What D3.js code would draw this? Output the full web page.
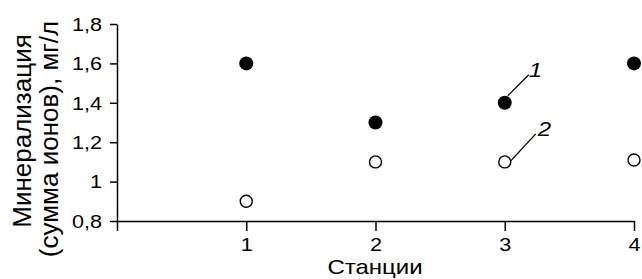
<!DOCTYPE html>
<html><head><meta charset="utf-8">
<script src="https://cdn.jsdelivr.net/npm/d3@7"></script>
<style>
body{margin:0;background:#fff;}
svg{display:block;font-family:"Liberation Sans",Arial,sans-serif;}
</style></head>
<body>
<svg id="c" width="642" height="279"></svg>
<script>
const stations = [1, 2, 3, 4];
const series1 = [1.6, 1.3, 1.4, 1.6];   // filled circles (1)
const series2 = [0.9, 1.1, 1.1, 1.11];  // open circles (2)
const yTicks = [0.8, 1.0, 1.2, 1.4, 1.6, 1.8];
const xTicks = [0, 1, 2, 3, 4];
const yTitle = ["Минерализация", "(сумма ионов), мг/л"];
const xTitle = "Станции";

const svg = d3.select("#c");
const x = d3.scaleLinear().domain([0, 4]).range([117, 634]);
const y = d3.scaleLinear().domain([0.8, 1.8]).range([221, 24]);
const fmt = v => (Math.abs(v - 1) < 1e-9 ? "1" : d3.format(".1f")(v).replace(".", ","));
const SX = 1.2;

const ya = svg.append("g").attr("transform", `translate(${x(0)},0)`)
  .call(d3.axisLeft(y).tickValues(yTicks).tickFormat(fmt).tickSize(7).tickSizeOuter(0));
const xa = svg.append("g").attr("transform", `translate(0,${y(0.8)})`)
  .call(d3.axisBottom(x).tickValues(xTicks).tickFormat(d => d === 0 ? "" : d).tickSize(10).tickSizeOuter(0));
[ya, xa].forEach(g => {
  g.selectAll("path, line").attr("stroke", "#000").attr("stroke-width", 1.5);
  g.selectAll("text").attr("fill", "#000").style("font-size", "18px")
    .style("font-family", "Liberation Sans, Arial, sans-serif");
});
ya.selectAll("text").attr("x", null).attr("dy", "0.35em")
  .attr("transform", `translate(-15,0) scale(${SX},1)`);
xa.selectAll("text").attr("y", null).attr("dy", null)
  .attr("transform", `translate(0,30) scale(${SX},1)`);

svg.append("g").selectAll("circle").data(stations).join("circle")
  .attr("cx", d => x(d)).attr("cy", (d, i) => y(series2[i])).attr("r", 6)
  .attr("fill", "#fff").attr("stroke", "#000").attr("stroke-width", 1.4);
svg.append("g").selectAll("circle").data(stations).join("circle")
  .attr("cx", d => x(d)).attr("cy", (d, i) => y(series1[i])).attr("r", 7)
  .attr("fill", "#000");

// annotations at station 3
const ax = x(3);
const a1 = y(series1[2]), a2 = y(series2[2]);
svg.append("line").attr("x1", ax + 3).attr("y1", a1 - 7).attr("x2", ax + 24).attr("y2", a1 - 28)
  .attr("stroke", "#000").attr("stroke-width", 1.3);
svg.append("line").attr("x1", ax + 6).attr("y1", a2 - 1).attr("x2", ax + 31).attr("y2", a2 - 28)
  .attr("stroke", "#000").attr("stroke-width", 1.3);
svg.append("text").attr("transform", `translate(${ax + 24},${a1 - 26}) scale(${SX},1)`).text("1")
  .style("font-size", "20px").style("font-style", "italic");
svg.append("text").attr("transform", `translate(${ax + 33},${a2 - 26}) scale(${SX},1)`).text("2")
  .style("font-size", "20px").style("font-style", "italic");

svg.append("text").attr("transform", "translate(31,131) rotate(-90)")
  .attr("text-anchor", "middle").style("font-size", "26px").text(yTitle[0]);
svg.append("text").attr("transform", "translate(58,139) rotate(-90)")
  .attr("text-anchor", "middle").style("font-size", "26px").text(yTitle[1]);
svg.append("text").attr("transform", `translate(375,274) scale(${SX},1)`).attr("text-anchor", "middle")
  .style("font-size", "20px").text(xTitle);
</script>
</body></html>
